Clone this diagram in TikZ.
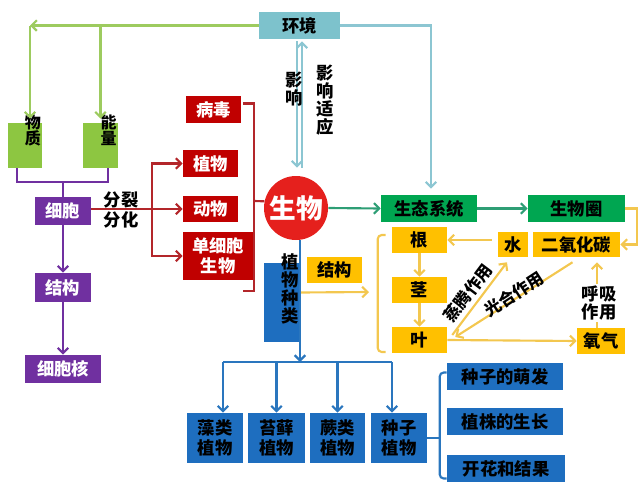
\documentclass[tikz,border=0pt]{standalone}
\usepackage{fontspec}
\setmainfont{Noto Sans CJK SC}
\usetikzlibrary{calc,arrows.meta}

\definecolor{envteal}{HTML}{7DC2CC}
\definecolor{tealline}{HTML}{8CC6D2}
\definecolor{lgreen}{HTML}{8DC641}
\definecolor{greenline}{HTML}{9DCB5F}
\definecolor{purp}{HTML}{7030A0}
\definecolor{dred}{HTML}{C00000}
\definecolor{redline}{HTML}{B3262A}
\definecolor{circred}{HTML}{E5201D}
\definecolor{dgreen}{HTML}{00A651}
\definecolor{darrowgreen}{HTML}{2E9E75}
\definecolor{orangebox}{HTML}{FFC000}
\definecolor{yline}{HTML}{F3C74F}
\definecolor{bluebox}{HTML}{1E6EBF}
\definecolor{bline}{HTML}{2A76BE}

\begin{document}
\begin{tikzpicture}[x=0.75pt, y=-0.75pt,
    >={Straight Barb[length=4pt,width=8pt]},
    box/.style={rectangle, inner sep=0pt, align=center,
        font=\bfseries\fontsize{13}{15}\selectfont},
    envbox/.style={box, fill=envteal, text=black},
    lgbox/.style={box, fill=lgreen},
    purpbox/.style={box, fill=purp, text=white},
    redbox/.style={box, fill=dred, text=white},
    greenbox/.style={box, fill=dgreen, text=black},
    orbox/.style={box, fill=orangebox, text=black},
    bluebx/.style={box, fill=bluebox, text=black},
    lbl/.style={align=center, inner sep=0pt,
        font=\bfseries\fontsize{13}{13.5}\selectfont},
    conn/.style={line width=1.6pt},
    tealarrow/.style={conn, tealline, ->},
    greenarrow/.style={conn, greenline, ->},
    purpleline/.style={conn, purp},
    purplearrow/.style={conn, purp, ->},
    redlinestyle/.style={conn, redline},
    redarrow/.style={conn, redline, ->},
    dgarrow/.style={conn, darrowgreen, ->},
    ylinestyle/.style={conn, yline},
    yarrow/.style={conn, yline, ->},
    blinestyle/.style={conn, bline},
    bluearrow/.style={conn, bline, ->}]

\useasboundingbox (0,0) rectangle (640,482);

% Environment
\node[envbox, minimum width=60.75pt, minimum height=20.25pt] (env) at (299.5,25.5) {环境};

% Matter and energy
\node[lgbox, minimum width=25.5pt, minimum height=33.75pt,
      label={[lbl, anchor=north, xshift=6pt, yshift=6pt, font=\bfseries\fontsize{12}{12}\selectfont]north:物\\质}] (wz) at (25,145.5) {};
\node[lgbox, minimum width=26.25pt, minimum height=33.75pt,
      label={[lbl, anchor=north, xshift=6pt, yshift=6pt, font=\bfseries\fontsize{12}{12}\selectfont]north:能\\量}] (nl) at (100.5,145.5) {};

\draw[greenarrow] (env.west) -- ($(wz.north |- env.west)+(5,0)$);
\draw[greenarrow] ($(wz.north |- env.west)+(5,0)$) -- ($(wz.north)+(5,-4)$);
\draw[greenarrow] (nl.north |- env.west) -- ($(nl.north)+(0,-4)$);

% Cell column
\node[purpbox, minimum width=42pt, minimum height=21pt] (xb) at (63,211) {细胞};
\node[purpbox, minimum width=42pt, minimum height=21.75pt] (jg) at (63,287.5) {结构};
\node[purpbox, minimum width=57pt, minimum height=21pt] (xbh) at (63,369) {细胞核};

\draw[purpleline] ($(wz.south)+(-8,0)$) -- ++(0,14) -| ($(nl.south)+(7.5,0)$);
\draw[purpleline] (xb.north |- 0,182) -- (xb.north);
\draw[purplearrow] (xb.south) -- (jg.north);
\draw[purplearrow] (jg.south) -- (xbh.north);

% Kinds of organisms
\node[redbox, minimum width=41.25pt, minimum height=20.25pt] (bd) at (213.5,109.5) {病毒};
\node[redbox, minimum width=41.25pt, minimum height=20.25pt] (zw) at (210.5,163.5) {植物};
\node[redbox, minimum width=41.25pt, minimum height=19.5pt] (dw) at (210.5,209) {动物};
\node[redbox, minimum width=52.5pt, minimum height=36pt] (dxb) at (218,256) {单细胞\\生物};

\coordinate (split) at (152,209);
\draw[redarrow] (xb.east |- split) -- (dw.west);
\draw[redarrow] (split) |- (zw.west);
\draw[redarrow] (split) |- (dxb.west);
\node[lbl, font=\bfseries\fontsize{13}{15}\selectfont] (fl) at (121,210) {分裂\\分化};

% Organism
\node[circle, fill=circred, text=white, minimum size=48pt, inner sep=0pt,
      font=\bfseries\fontsize{20}{22}\selectfont] (sw) at (296,208) {生物};

\coordinate (rmid) at (254,201);
\draw[redlinestyle] ($(bd.east)+(2,-6)$) -| (254,291) -- (243,291);
\draw[redlinestyle] (rmid) -- (sw.168);

% Environment and organism
\draw[tealarrow] ($(env.south)+(-2.5,2)$) -- ($(sw.north)+(1,-8)$);
\draw[tealarrow] ($(sw.north)+(6,-8)$) -- ($(env.south)+(2.5,2)$);
\node[lbl] (yx) at (294,89) {影\\响};
\node[lbl] (yxsy) at (325,100) {影\\响\\适\\应};

% Ecosystem and biosphere
\node[greenbox, minimum width=72pt, minimum height=20.25pt] (stxt) at (429,208.5) {生态系统};
\node[greenbox, minimum width=72.75pt, minimum height=20.25pt] (swq) at (576.5,208.5) {生物圈};

\draw[tealarrow] (env.east) -| ($(stxt.north)+(2,-6)$);
\draw[dgarrow] (sw.east) -- (stxt.west);
\draw[dgarrow] (stxt.east) -- (swq.west);

% Plant structure
\node[orbox, minimum width=41.25pt, minimum height=19.5pt] (jgo) at (334.5,270) {结构};
\node[orbox, minimum width=41.25pt, minimum height=19.5pt] (gen) at (419.5,240) {根};
\node[orbox, minimum width=41.25pt, minimum height=19.5pt] (jing) at (419.5,290) {茎};
\node[orbox, minimum width=41.25pt, minimum height=19.5pt] (ye) at (419.5,340) {叶};
\node[orbox, minimum width=22.5pt, minimum height=18.75pt] (shui) at (513,244.5) {水};
\node[orbox, minimum width=65.25pt, minimum height=18.75pt] (eyht) at (576.5,244.5) {二氧化碳};
\node[orbox, minimum width=36pt, minimum height=19.5pt] (yq) at (601,341) {氧气};

% Plant kinds
\node[bluebx, minimum width=26.25pt, minimum height=59.25pt,
      label={[lbl, xshift=6.4pt, yshift=10pt]center:植\\物\\种\\类}] (zwzl) at (281.5,302.5) {};

\coordinate (ybr) at (378,292);
\draw[ylinestyle, rounded corners=3pt] ($(gen.west)+(-6,-5)$) -- ($(gen.west)+(-14,-5)$)
    -- ($(ye.west)+(-14,12)$) -- ($(ye.west)+(-6,12)$);
\draw[yarrow] ($(zwzl.east)+(1,-10)$) -- ($(ybr)+(-9,0)$);

\draw[yarrow] (gen.south) -- (jing.north);
\draw[yarrow] (jing.south) -- (ye.north);
\draw[yarrow] (shui.west |- gen.east) ++(-6,0) -- (gen.east);
\draw[yarrow] (swq.east) -- ++(12,0) |- (eyht.east);
\draw[yarrow] ($(ye.east)+(5,-5)$) -- ($(shui.south)+(-6,5)$);
\draw[yarrow] ($(eyht.south)+(-4,5)$) -- ($(ye.east)+(8,-3)$);
\draw[yarrow] (ye.east) -- (yq.west);
\draw[yarrow] ($(yq.north)+(-4,0)$) -- ($(eyht.south)+(20.5,5)$);

\node[lbl, rotate=53, font=\bfseries\fontsize{12.5}{13}\selectfont] (ztzy) at (468,293) {蒸腾作用};
\node[lbl, rotate=33, font=\bfseries\fontsize{12.5}{13}\selectfont] (ghzy) at (514,294) {光合作用};
\node[lbl, fill=white, inner sep=1pt] (hxzy) at (599,303) {呼吸\\作用};

% Plant groups
\node[bluebx, minimum width=42pt, minimum height=37.5pt] (zl) at (215,438) {藻类\\植物};
\node[bluebx, minimum width=42.75pt, minimum height=37.5pt] (tx) at (276.5,438) {苔藓\\植物};
\node[bluebx, minimum width=41.25pt, minimum height=37.5pt] (jl) at (337.5,438) {蕨类\\植物};
\node[bluebx, minimum width=42pt, minimum height=37.5pt] (zz) at (399,438) {种子\\植物};

\coordinate (bsplit) at (300,362);
\coordinate (bl) at ($(zl.north |- bsplit)+(8,0)$);
\coordinate (br) at ($(zz.north |- bsplit)+(-7,0)$);
\draw[bluearrow] ($(sw.south)+(4,0)$) -- (bsplit);
\draw[blinestyle] (bl) -- (br);
\draw[bluearrow] (bl) -- (bl |- zl.north);
\draw[bluearrow] (tx.north |- bsplit) -- (tx.north);
\draw[bluearrow] (jl.north |- bsplit) -- (jl.north);
\draw[bluearrow] (br) -- (br |- zz.north);

% Seed plant life
\node[bluebx, minimum width=87pt, minimum height=20.25pt] (zzmf) at (505,376.5) {种子的萌发};
\node[bluebx, minimum width=87pt, minimum height=20.25pt] (zzsz) at (505,421.5) {植株的生长};
\node[bluebx, minimum width=88.5pt, minimum height=20.25pt] (khjg) at (506,468.5) {开花和结果};

\draw[blinestyle, rounded corners=3pt] ($(zzmf.west)+(0,-4)$) -- ++(-7,0)
    -- ($(khjg.west)+(-7,10)$) -- ($(khjg.west)+(0,10)$);
\draw[blinestyle] (zz.east) -- ++(13,0);

\end{tikzpicture}
\end{document}
